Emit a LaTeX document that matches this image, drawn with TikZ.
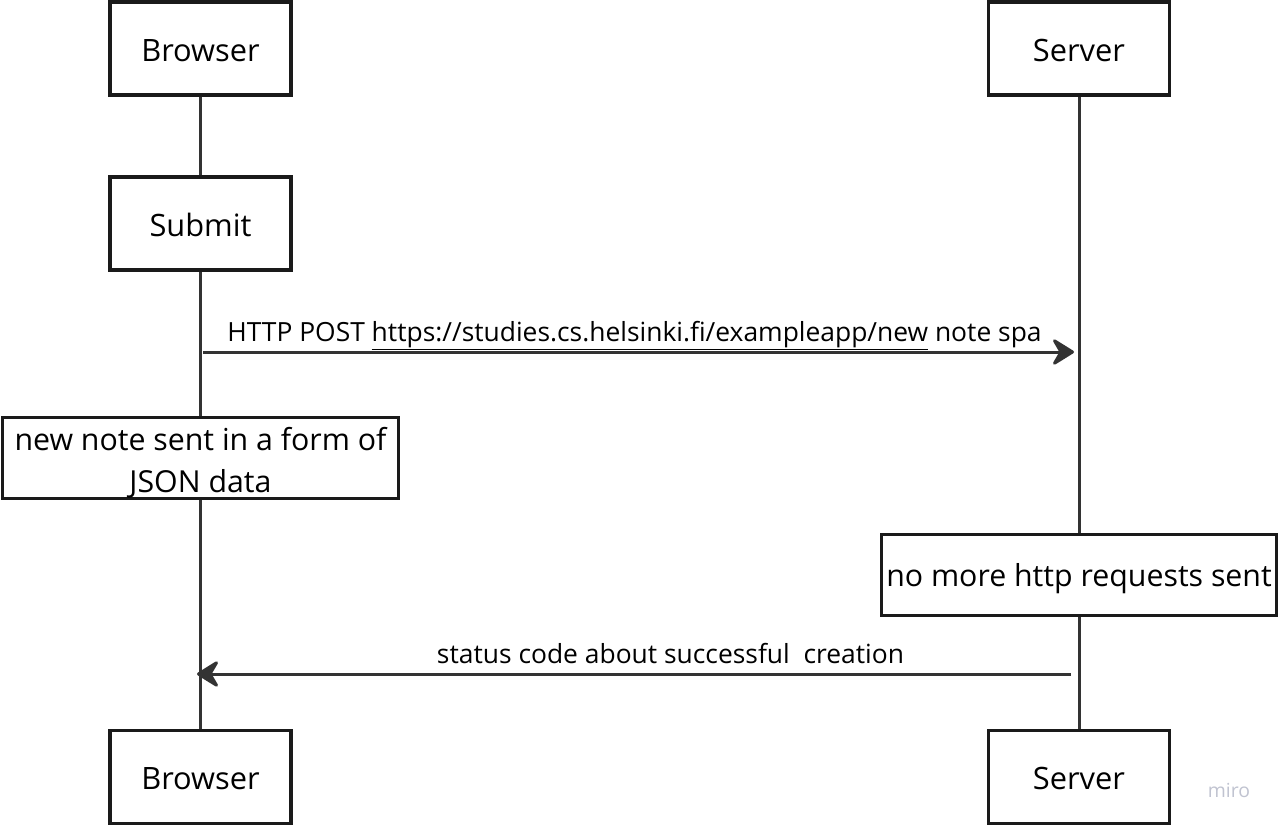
\documentclass[tikz,border=0pt]{standalone}
\usepackage{fontspec}
\setmainfont{Open Sans}
\usetikzlibrary{arrows.meta}
\definecolor{ln}{HTML}{333333}
\definecolor{bx}{HTML}{1A1A1A}
\definecolor{wm}{HTML}{C0C3D0}
\begin{document}
\begin{tikzpicture}[x=1pt,y=-1pt,
  actor/.style={draw=bx, line width=3.5pt, fill=white, minimum width=181pt, minimum height=93pt, inner sep=0pt, text height=25pt, text depth=0pt, font=\fontsize{30.8}{36}\selectfont},
  notebox/.style={draw=bx, line width=3pt, fill=white, minimum height=81pt, inner sep=0pt, align=center, font=\fontsize{30.3}{42}\selectfont},
  life/.style={draw=ln, line width=3pt},
  msg/.style={draw=ln, line width=3pt, -{Stealth[length=25pt, width=31pt, inset=9pt, round]}},
  lbl/.style={font=\fontsize{26.4}{32}\selectfont, anchor=base, inner sep=0pt}]
\useasboundingbox (0,0) rectangle (1280,827);
% actors
\node[actor] (btop) at (200.5,48.5) {Browser};
\node[actor] (stop) at (1079,48.5) {Server};
\node[actor] (submit) at (200.5,223.5) {Submit};
\node[notebox, minimum width=396pt] (bnote) at (200.5,458) {\rule{0pt}{33pt}new note sent in a form of\\JSON data};
\node[notebox, minimum width=395pt, text height=25pt, text depth=2pt] (snote) at (1079,575) {no more http requests sent};
\node[actor] (bbot) at (200.5,777) {Browser};
\node[actor] (sbot) at (1079,777) {Server};
% lifelines
\draw[life] (btop.south) -- (submit.north);
\draw[life] (submit.south) -- (bnote.north);
\draw[life] (bnote.south) -- (bbot.north);
\draw[life] (stop.south) -- (snote.north);
\draw[life] (snote.south) -- (sbot.north);
% messages
\coordinate (p1) at (203,352);
\coordinate (p2) at (1074,352);
\coordinate (r1) at (1071,674);
\coordinate (r2) at (197,674);
\draw[msg] (p1) -- (p2);
\draw[msg] (r1) -- (r2);
\node[lbl] (postlbl) at (634.5,341) {HTTP POST \underline{https://studies.cs.helsinki.fi/exampleapp/new} note spa};
\node[lbl] (retlbl) at (670.5,663) {status code about successful\ \ creation};
% watermark
\node[text=wm, font=\fontsize{19.4}{22}\selectfont] (miro) at (1229,790) {miro};
\end{tikzpicture}
\end{document}
